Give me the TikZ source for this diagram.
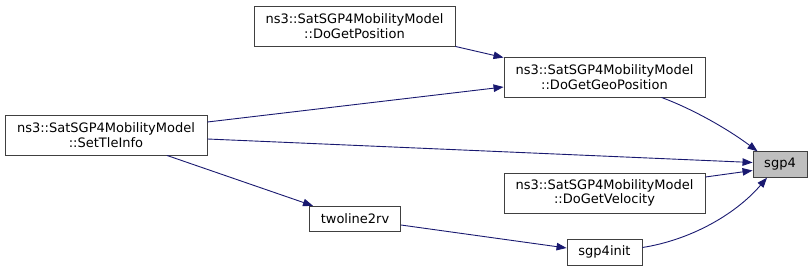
\documentclass[tikz,border=0pt]{standalone}
\usepackage{fontspec}
\setmainfont{DejaVu Sans}
\usetikzlibrary{arrows.meta}
\definecolor{edgeblue}{HTML}{191970}
\definecolor{boxline}{HTML}{404040}
\definecolor{hlfill}{HTML}{BFBFBF}
\begin{document}
\begin{tikzpicture}[x=1pt,y=-1pt,
  fn/.style={draw=boxline,line width=0.9pt,fill=white,inner sep=0pt,
    align=center,font=\fontsize{13}{14.5}\selectfont},
  wide/.style={fn,minimum width=201pt,minimum height=40pt},
  small/.style={fn,minimum height=25.5pt},
  call/.style={draw=edgeblue,line width=0.9pt,
    -{Triangle[length=10pt,width=7.5pt,fill=edgeblue]}}]
\useasboundingbox (0,0) rectangle (812,271);

% functions
\node[wide] (pos) at (354.5,26) {ns3::SatSGP4MobilityModel\\::DoGetPosition};
\node[wide] (geo) at (604.5,77) {ns3::SatSGP4MobilityModel\\::DoGetGeoPosition};
\node[wide,minimum width=202pt] (tle) at (106,135) {ns3::SatSGP4MobilityModel\\::SetTleInfo};
\node[small,minimum width=54pt,fill=hlfill] (sgp) at (780,164.5) {sgp4};
\node[wide] (vel) at (604.5,193) {ns3::SatSGP4MobilityModel\\::DoGetVelocity};
\node[small,minimum width=91pt] (two) at (355,219) {twoline2rv};
\node[small,minimum width=75pt,minimum height=26pt] (init) at (604.5,252) {sgp4init};

% calls
\draw[call] (pos.south east) -- ([yshift=-1pt]geo.north west);
\draw[call] ([yshift=13pt]tle.east) -- ([yshift=-10pt]geo.west);
\draw[call] ([yshift=-4pt]tle.east) -- ([yshift=2pt]sgp.west);
\draw[call] ([yshift=16pt]vel.east) -- ([yshift=-6pt]sgp.west);
\draw[call] ([xshift=61pt]tle.south) -- ([xshift=-42pt]two.north);
\draw[call] ([yshift=-6pt]two.east) -- ([yshift=4pt]init.west);
\draw[call] ([xshift=57pt]geo.south) .. controls (690,108) and (725,127) .. ([xshift=5pt]sgp.north west);
\draw[call] ([yshift=4.5pt]init.east) .. controls (690,240) and (735,215) .. ([xshift=-13pt]sgp.south);
\end{tikzpicture}
\end{document}
